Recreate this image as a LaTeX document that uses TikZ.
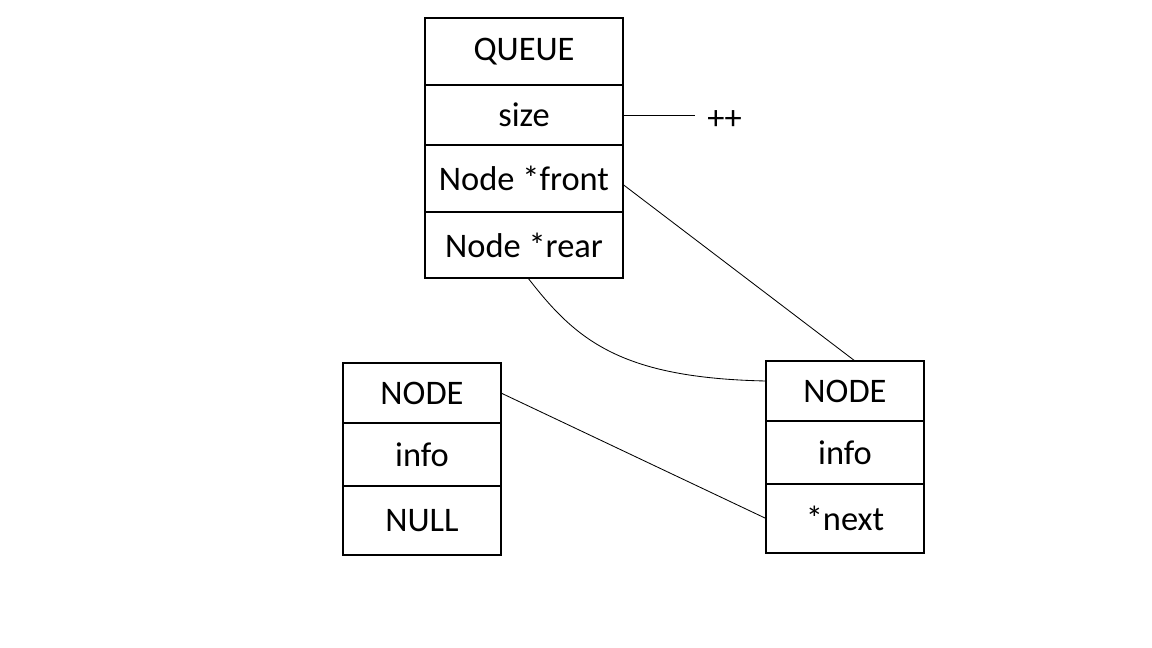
\documentclass[tikz,border=0pt]{standalone}
\usepackage{fontspec}
\setmainfont{Carlito}
\usetikzlibrary{positioning}

\tikzset{
  cell/.style={draw, line width=0.8pt, inner sep=0pt, outer sep=0pt, font=\fontsize{24.5}{28}\selectfont},
  headcell/.style={cell, line width=1.6pt},
  qcell/.style={minimum width=4.95cm},
  ncell/.style={minimum width=3.95cm},
  link/.style={draw, line width=0.6pt}
}

\begin{document}
\begin{tikzpicture}
  \useasboundingbox (0,0) rectangle (28.8,-16.2);

  % queue structure
  \node[headcell, qcell, minimum height=1.675cm, anchor=north] (qhead) at (13.1,-0.45) {QUEUE};
  \node[cell, qcell, minimum height=1.5cm, below=0pt of qhead] (qsize) {size};
  \node[cell, qcell, minimum height=1.675cm, below=0pt of qsize] (qfront) {Node *front};
  \node[cell, qcell, minimum height=1.65cm, below=0pt of qfront] (qrear) {Node *rear};

  % last node
  \node[headcell, ncell, minimum height=1.5cm, anchor=north] (lhead) at (10.55,-9.075) {NODE};
  \node[cell, ncell, minimum height=1.575cm, below=0pt of lhead] (linfo) {info};
  \node[cell, ncell, minimum height=1.725cm, below=0pt of linfo] (lnull) {NULL};

  % first node
  \node[headcell, ncell, minimum height=1.5cm, anchor=north] (rhead) at (21.125,-9.025) {NODE};
  \node[cell, ncell, minimum height=1.575cm, below=0pt of rhead] (rinfo) {info};
  \node[cell, ncell, minimum height=1.725cm, below=0pt of rinfo] (rnext) {*next};

  \coordinate[right=1.8cm of qsize.east] (sizeend);
  \node[font=\fontsize{24.5}{28}\selectfont, inner sep=0pt, right=0.3cm of sizeend, yshift=-0.12cm] (plus) {++};

  \draw[link] (qsize.east) -- (sizeend);
  \draw[link] ([yshift=-0.15cm]qfront.east) -- ([xshift=0.25cm]rhead.north);
  \draw[link] ([xshift=0.1cm]qrear.south) .. controls (14.4,-8.5) and (15.5,-9.45) .. ([yshift=0.25cm]rhead.west);
  \draw[link] (lhead.east) -- (rnext.west);

\end{tikzpicture}
\end{document}
